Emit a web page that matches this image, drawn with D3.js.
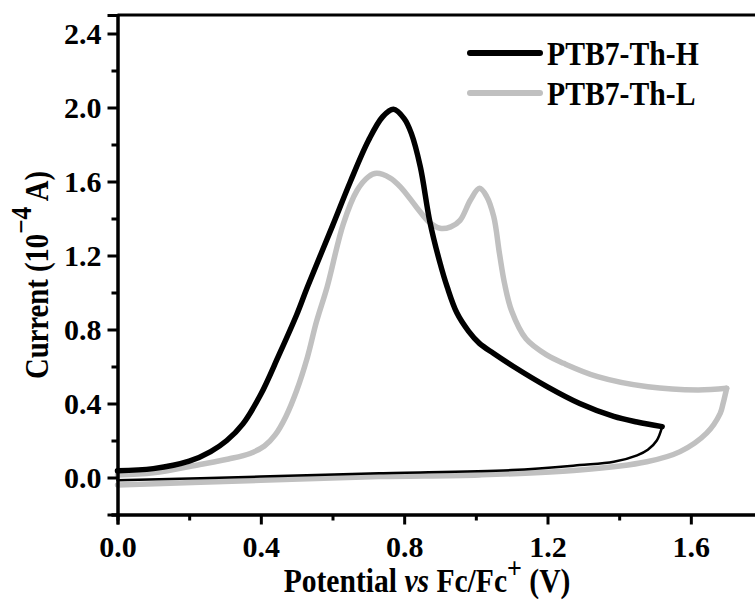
<!DOCTYPE html>
<html>
<head>
<meta charset="utf-8">
<script src="https://cdn.jsdelivr.net/npm/d3@7"></script>
<style>
	body { margin: 0; background: #fff; }
	svg text { font-family: "Liberation Serif", "Times New Roman", serif; font-weight: bold; }
</style>
</head>
<body>
<div id="chart-area"></div>
<script>

// ---- DATA ----

// PTB7-Th-H, forward sweep
let hFwdPotential = [0, 0.1, 0.2, 0.26, 0.305, 0.35, 0.4, 0.45, 0.5, 0.53, 0.6, 0.65, 0.7, 0.74, 0.77, 0.8, 0.82, 0.845, 0.872, 0.9, 0.92, 0.947, 0.98, 1.01, 1.05, 1.105, 1.2, 1.29, 1.385, 1.45, 1.52];
let hFwdCurrent   = [0.036, 0.048, 0.088, 0.14, 0.2, 0.29, 0.45, 0.66, 0.88, 1.03, 1.36, 1.6, 1.82, 1.95, 1.99, 1.94, 1.86, 1.68, 1.38, 1.16, 1.03, 0.89, 0.79, 0.725, 0.67, 0.6, 0.49, 0.4, 0.33, 0.3, 0.275];
// PTB7-Th-H, reverse sweep
let hRevPotential = [1.52, 1.505, 1.48, 1.45, 1.385, 1.29, 1.1, 0.73, 0.4, 0];
let hRevCurrent   = [0.275, 0.2, 0.15, 0.12, 0.085, 0.067, 0.04, 0.023, 0.005, -0.015];

// PTB7-Th-L, forward sweep
let lFwdPotential = [0, 0.1, 0.23, 0.31, 0.37, 0.41, 0.44, 0.47, 0.5, 0.53, 0.555, 0.585, 0.63, 0.668, 0.7, 0.723, 0.76, 0.79, 0.835, 0.87, 0.9, 0.93, 0.956, 0.985, 1.01, 1.03, 1.05, 1.066, 1.08, 1.1, 1.14, 1.2, 1.245, 1.34, 1.48, 1.62, 1.7];
let lFwdCurrent   = [0.013, 0.025, 0.07, 0.1, 0.13, 0.17, 0.23, 0.33, 0.47, 0.65, 0.84, 1.03, 1.37, 1.55, 1.625, 1.644, 1.62, 1.57, 1.46, 1.38, 1.347, 1.355, 1.39, 1.5, 1.563, 1.52, 1.41, 1.21, 1.05, 0.9, 0.75, 0.66, 0.617, 0.545, 0.49, 0.473, 0.482];
// PTB7-Th-L, reverse sweep
let lRevPotential = [1.7, 1.69, 1.682, 1.644, 1.57, 1.477, 1.29, 1.01, 0.73, 0.4, 0];
let lRevCurrent   = [0.482, 0.4, 0.347, 0.24, 0.14, 0.085, 0.04, 0.014, 0.005, -0.015, -0.04];

let seriesNames = ["PTB7-Th-H", "PTB7-Th-L"];
let seriesColors = ["#000000", "#c0c0c0"];

let xMajorTicks = [0, 0.4, 0.8, 1.2, 1.6];
let xMinorTicks = [0.2, 0.6, 1.0, 1.4, 1.8];
let yMajorTicks = [0, 0.4, 0.8, 1.2, 1.6, 2.0, 2.4];
let yMinorTicks = [-0.2, 0.2, 0.6, 1.0, 1.4, 1.8, 2.2];


// ---- CHART AREA ----

let margin = {top: 15, right: -7.5, bottom: 94.5, left: 117.5},
	width = 755 - margin.left - margin.right,
	height = 609 - margin.top - margin.bottom;

let root = d3.select("#chart-area").append("svg")
	.attr("width", 755)
	.attr("height", 609);

let svg = root.append("g")
	.attr("transform", "translate(" + margin.left + "," + margin.top + ")");

let xScale = d3.scaleLinear()
	.domain([0, 1.8])
	.range([0, width]);

let yScale = d3.scaleLinear()
	.domain([-0.2, 2.5])
	.range([height, 0]);


// ---- CURVES ----

function zip(xs, ys) {
	return xs.map((v, i) => [v, ys[i]]);
}

let line = d3.line()
	.x(d => xScale(d[0]))
	.y(d => yScale(d[1]))
	.curve(d3.curveCatmullRom.alpha(0.5));

let branches = [
	{pts: zip(lFwdPotential, lFwdCurrent), color: seriesColors[1], w: 5.5},
	{pts: zip(lRevPotential, lRevCurrent), color: seriesColors[1], w: 5.5},
	{pts: zip(hFwdPotential, hFwdCurrent), color: seriesColors[0], w: 5.5},
	{pts: zip(hRevPotential, hRevCurrent), color: seriesColors[0], w: 2.5}
];

svg.selectAll(".cv")
	.data(branches)
	.enter()
	.append("path")
	.attr("class", "cv")
	.attr("d", d => line(d.pts))
	.attr("fill", "none")
	.attr("stroke", d => d.color)
	.attr("stroke-width", d => d.w)
	.attr("stroke-linejoin", "round")
	.attr("stroke-linecap", "round");


// ---- AXES ----

svg.append("g")
	.attr("class", "x-axis axis")
	.attr("transform", "translate(0," + height + ")")
	.call(d3.axisBottom(xScale).tickValues(xMajorTicks).tickSize(10).tickPadding(11).tickFormat(d3.format(".1f")));

svg.append("g")
	.attr("class", "x-axis-minor")
	.attr("transform", "translate(0," + height + ")")
	.call(d3.axisBottom(xScale).tickValues(xMinorTicks).tickSize(6).tickFormat(""));

svg.append("g")
	.attr("class", "y-axis axis")
	.call(d3.axisLeft(yScale).tickValues(yMajorTicks).tickSize(10).tickPadding(6).tickFormat(d3.format(".1f")));

svg.append("g")
	.attr("class", "y-axis-minor")
	.call(d3.axisLeft(yScale).tickValues(yMinorTicks).tickSize(6).tickFormat(""));

svg.selectAll(".domain").attr("stroke-width", 3).attr("stroke", "#000");
svg.selectAll(".tick line").attr("stroke-width", 3).attr("stroke", "#000");
svg.selectAll(".axis .tick text")
	.attr("fill", "#000")
	.style("font-size", "30px");

// top frame
svg.append("line")
	.attr("x1", 0).attr("x2", width)
	.attr("y1", 0).attr("y2", 0)
	.attr("stroke", "#000")
	.attr("stroke-width", 3);


// ---- AXIS TITLES ----

let xTitle = root.append("text")
	.attr("transform", "translate(427,592) scale(0.87,1)")
	.style("text-anchor", "middle")
	.style("font-size", "34px");
xTitle.append("tspan").text("Potential ");
xTitle.append("tspan").style("font-style", "italic").text("vs");
xTitle.append("tspan").text(" Fc/Fc");
xTitle.append("tspan").attr("dy", -14).style("font-size", "30px").text("+");
xTitle.append("tspan").attr("dy", 14).text(" (V)");

let yTitle = root.append("text")
	.attr("transform", "translate(48,275) rotate(-90) scale(0.87,1)")
	.style("text-anchor", "middle")
	.style("font-size", "33px");
yTitle.append("tspan").text("Current (10");
yTitle.append("tspan").attr("dy", -17).style("font-size", "29px").text("\u22124");
yTitle.append("tspan").attr("dy", 17).text(" A)");


// ---- LEGEND ----

let legend = root.selectAll(".legend")
	.data(seriesNames)
	.enter()
	.append("g")
	.attr("class", "legend")
	.attr("transform", (d, i) => "translate(470," + (53 + i * 40) + ")");

legend.append("line")
	.attr("x1", 0).attr("x2", 70)
	.attr("stroke", (d, i) => seriesColors[i])
	.attr("stroke-width", 6)
	.attr("stroke-linecap", "round");

legend.append("text")
	.attr("transform", "translate(77,12) scale(0.9,1)")
	.style("font-size", "33px")
	.text(d => d);

</script>
</body>
</html>
